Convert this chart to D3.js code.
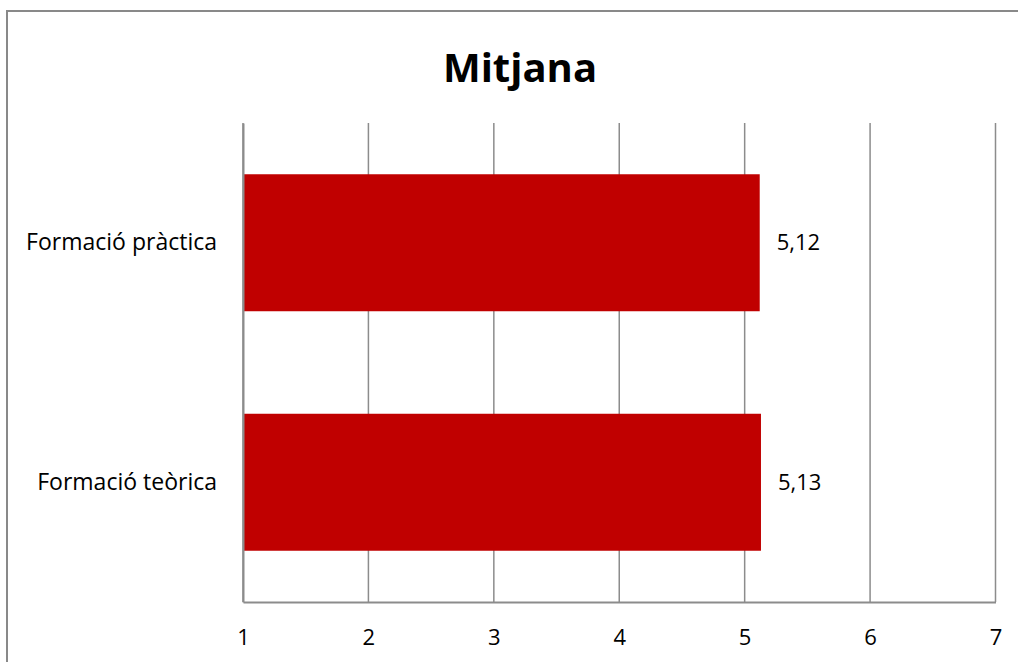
<!DOCTYPE html>
<html lang="ca">
<head>
  <meta charset="UTF-8">
  <title>Mitjana</title>
  <script src="https://cdn.jsdelivr.net/npm/d3@7"></script>
  <style>
    body { margin: 0; background: #fff; }
    text { font-family: "Open Sans", "Liberation Sans", sans-serif; fill: #000; }
  </style>
</head>
<body>
<script>
  var categories = ['Formació pràctica', 'Formació teòrica'];
  var values = [5.12, 5.13];
  var ticks = [1, 2, 3, 4, 5, 6, 7];
  var title = 'Mitjana';

  var w = 1018, h = 662;
  var plotLeft = 243, plotRight = 995.5, plotTop = 123, plotBottom = 602;
  var fs = '22px';

  var svg = d3.select('body').append('svg').attr('width', w).attr('height', h);

  // chart frame (right and bottom edges fall off the picture)
  svg.append('rect').attr('x', 7).attr('y', 11).attr('width', 1030).attr('height', 700)
    .attr('fill', '#fff').attr('stroke', '#898989').attr('stroke-width', 2);

  svg.append('text').text(title)
    .attr('x', 520).attr('y', 82).attr('text-anchor', 'middle')
    .attr('font-size', '40px').attr('font-weight', 'bold');

  var x = d3.scaleLinear().domain([1, 7]).range([plotLeft, plotRight]);
  var y = d3.scaleBand().domain(categories).range([plotTop, plotBottom])
    .paddingInner(0.428).paddingOuter(0.214);

  // vertical gridlines
  svg.selectAll('line.grid').data(ticks).enter().append('line')
    .attr('class', 'grid')
    .attr('x1', function (d) { return x(d) }).attr('x2', function (d) { return x(d) })
    .attr('y1', plotTop).attr('y2', plotBottom)
    .attr('stroke', '#8c8c8c').attr('stroke-width', 1.5);

  // bars
  svg.selectAll('rect.bar').data(values).enter().append('rect')
    .attr('class', 'bar')
    .attr('x', x(1))
    .attr('y', function (d, i) { return y(categories[i]) })
    .attr('width', function (d) { return x(d) - x(1) })
    .attr('height', y.bandwidth())
    .attr('fill', '#c00000');

  // x axis
  var xAxis = d3.axisBottom(x).tickValues(ticks).tickSize(0).tickPadding(27)
    .tickFormat(d3.format('d'));
  var gx = svg.append('g').attr('transform', 'translate(0,' + plotBottom + ')').call(xAxis);
  gx.select('.domain').attr('stroke', '#8c8c8c').attr('stroke-width', 2);
  gx.selectAll('text').attr('font-size', fs).attr('font-family', '"Open Sans", sans-serif').attr('fill', '#000');

  // y axis (labels only)
  var yAxis = d3.axisLeft(y).tickSize(0).tickPadding(26);
  var gy = svg.append('g').attr('transform', 'translate(' + plotLeft + ',0)').call(yAxis);
  gy.select('.domain').attr('stroke', '#8c8c8c').attr('stroke-width', 2);
  gy.selectAll('text').attr('font-size', '23px').attr('font-family', '"Open Sans", sans-serif').attr('fill', '#000');

  // value labels
  var fmt = function (d) { return d.toFixed(2).replace('.', ',') };
  svg.selectAll('text.val').data(values).enter().append('text')
    .attr('class', 'val')
    .attr('x', function (d) { return x(d) + 17 })
    .attr('y', function (d, i) { return y(categories[i]) + y.bandwidth() / 2 })
    .attr('dy', '0.35em')
    .attr('font-size', fs)
    .text(fmt);
</script>
</body>
</html>
